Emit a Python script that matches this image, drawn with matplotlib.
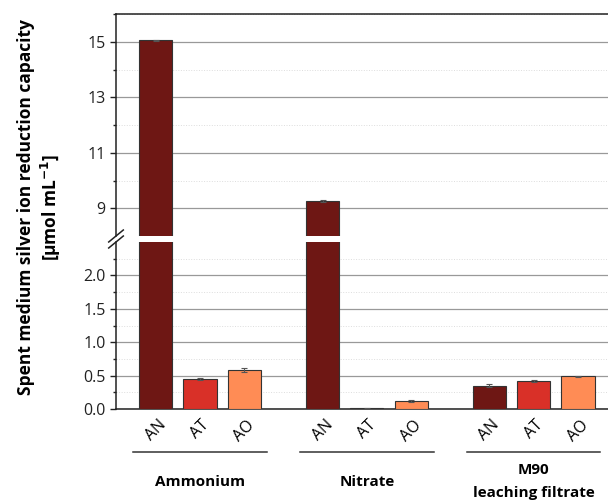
import numpy as np
import matplotlib
matplotlib.use("Agg")
import matplotlib.pyplot as plt

plt.rcParams['font.family'] = ['Open Sans', 'DejaVu Sans']

groups = ["Ammonium", "Nitrate", "M90\nleaching filtrate"]
strains = ["AN", "AT", "AO"]
values = [15.05, 0.45, 0.59,
          9.27, 0.01, 0.12,
          0.35, 0.42, 0.49]
errors = [0.03, 0.01, 0.03,
          0.04, 0.005, 0.01,
          0.02, 0.02, 0.01]
colors = ["#6E1714", "#D93028", "#FF8C55"]

gap = 3.77
pos = []
for g in range(3):
    for s in range(3):
        pos.append(g * gap + s)
pos = np.array(pos)
bar_cols = colors * 3

fig = plt.figure(figsize=(6.08, 5), dpi=100)
ax_top = fig.add_axes([0.1908, 0.528, 0.8092, 0.444])
ax_bot = fig.add_axes([0.1908, 0.182, 0.8092, 0.334])

for ax in (ax_top, ax_bot):
    ax.bar(pos, values, width=0.75, color=bar_cols, edgecolor="#333333",
           linewidth=0.8, zorder=3)
    ax.errorbar(pos, values, yerr=errors, fmt="none", ecolor="#555555",
                elinewidth=0.8, capsize=2.5, capthick=0.8, zorder=4)
    ax.set_xlim(-0.9, 10.22)
    ax.spines['right'].set_visible(False)
    ax.tick_params(axis='y', which='both', direction='out', labelsize=11.5,
                   colors='#222222', length=4, width=1)
    ax.tick_params(axis='y', which='minor', length=2.5)
    ax.grid(axis='y', which='major', color='#999999', linewidth=0.9, zorder=0)
    ax.grid(axis='y', which='minor', color='#dddddd', linewidth=0.7,
            linestyle=':', zorder=0)
    for sp in ax.spines.values():
        sp.set_linewidth(1.1)
        sp.set_color('#222222')

ax_top.set_ylim(8, 16)
ax_top.yaxis.set_major_locator(plt.FixedLocator([9, 11, 13, 15]))
ax_top.yaxis.set_minor_locator(plt.FixedLocator([10, 12, 14, 16]))
ax_top.spines['bottom'].set_visible(False)
ax_top.set_xticks([])

ax_bot.set_ylim(0, 2.5)
ax_bot.yaxis.set_major_locator(plt.FixedLocator([0.0, 0.5, 1.0, 1.5, 2.0]))
ax_bot.yaxis.set_minor_locator(plt.FixedLocator([0.25, 0.75, 1.25, 1.75, 2.25]))
ax_bot.yaxis.set_major_formatter(plt.FormatStrFormatter('%.1f'))
ax_bot.spines['top'].set_visible(False)
ax_bot.set_xticks(pos)
ax_bot.set_xticklabels(strains * 3, rotation=45, ha='center', va='top',
                       fontsize=11.5)
ax_bot.tick_params(axis='x', length=0, pad=6)

# break marks on the y axis
d = 0.012
kw = dict(transform=fig.transFigure, color='#222222', linewidth=1.1, clip_on=False)
x0 = 0.1908
fig.add_artist(plt.Line2D([x0 - d, x0 + d], [0.528 - 0.012, 0.528 + 0.012], **kw))
fig.add_artist(plt.Line2D([x0 - d, x0 + d], [0.516 - 0.012, 0.516 + 0.012], **kw))

# group lines and labels
for g, name in enumerate(groups):
    c = g * gap + 1
    ax_bot.plot([c - 1.51, c + 1.51], [-0.257, -0.257], color='#333333',
                linewidth=1.1, transform=ax_bot.get_xaxis_transform(),
                clip_on=False)
    if "\n" in name:
        ax_bot.text(c, -0.365, name.split("\n")[0], ha='center', va='center',
                    fontsize=11, fontweight='bold',
                    transform=ax_bot.get_xaxis_transform())
        ax_bot.text(c, -0.505, name.split("\n")[1], ha='center', va='center',
                    fontsize=11, fontweight='bold',
                    transform=ax_bot.get_xaxis_transform())
    else:
        ax_bot.text(c, -0.44, name, ha='center', va='center', fontsize=11,
                    fontweight='bold', transform=ax_bot.get_xaxis_transform())

fig.text(0.042, 0.585, "Spent medium silver ion reduction capacity",
         rotation=90, ha='center', va='center', fontsize=12.5, fontweight='bold')
fig.text(0.084, 0.585, r"[µmol mL$^{\mathbf{-1}}$]",
         rotation=90, ha='center', va='center', fontsize=12.5, fontweight='bold')

fig.savefig("out.png", dpi=100)
